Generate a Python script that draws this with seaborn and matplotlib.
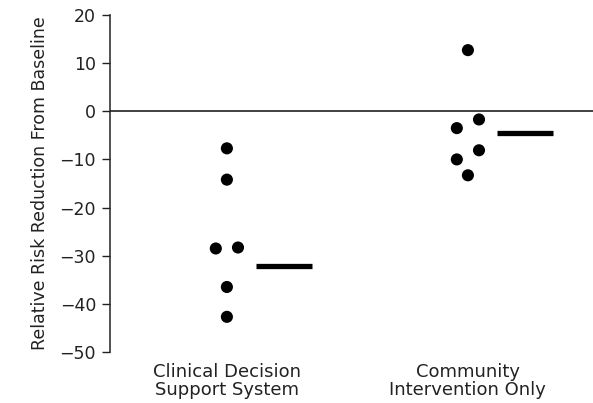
import matplotlib
matplotlib.use("Agg")
import matplotlib.pyplot as plt
import numpy as np
import pandas as pd
import seaborn as sns

# Study-level relative risk reductions (%) by intervention type
groups = ["Clinical Decision\nSupport System", "Community\nIntervention Only"]
cdss_values = [-7.7, -14.2, -28.5, -28.3, -36.5, -42.7]
community_values = [12.7, -1.7, -3.5, -8.1, -10.0, -13.3]
# pooled estimate for each group (horizontal bar)
pooled = [-32.2, -4.6]
y_ticks = [20, 10, 0, -10, -20, -30, -40, -50]

# side-by-side lanes for points that would otherwise overlap
cdss_lane = [0, 0, -1, 1, 0, 0]
community_lane = [0, 1, -1, 1, -1, 0]
lane_step = 0.046

sns.set_style("ticks")
plt.rcParams["font.family"] = ["DejaVu Sans"]

rows = []
for gi, (vals, lanes) in enumerate([(cdss_values, cdss_lane),
                                    (community_values, community_lane)]):
    for v, ln in zip(vals, lanes):
        rows.append({"pos": gi + ln * lane_step, "rrr": v})
df = pd.DataFrame(rows)

fig = plt.figure(figsize=(5.93, 4.03), dpi=100)
ax = fig.add_axes([0.1855, 0.1266, 0.8145, 0.8362])

ax.axhline(0, color="#333333", lw=1.3, zorder=1)
sns.scatterplot(data=df, x="pos", y="rrr", ax=ax, color="black", s=76,
                edgecolor="none", zorder=3, legend=False)
for gi, p in enumerate(pooled):
    ax.hlines(p, gi + 0.12, gi + 0.353, color="black", lw=3.8, zorder=3)

ax.set_xlim(-0.485, 1.519)
ax.set_ylim(-50, 20)
ax.set_yticks(y_ticks)
ax.set_yticklabels([f"\u2212{abs(t)}" if t < 0 else str(t) for t in y_ticks])
ax.set_xticks([0, 1])
ax.set_xticklabels(groups)
ax.tick_params(axis="x", length=0, pad=8, labelsize=13)
ax.tick_params(axis="y", length=6, width=1, pad=4, labelsize=12.5, colors="#222222")
for t in ax.get_xticklabels():
    t.set_linespacing(1.0)
    t.set_color("#222222")

ax.set_xlabel("")
ax.set_ylabel("Relative Risk Reduction From Baseline", fontsize=12.5,
              color="#222222", labelpad=8)

for side in ["top", "right", "bottom"]:
    ax.spines[side].set_visible(False)
ax.spines["left"].set_linewidth(1.1)
ax.spines["left"].set_color("#222222")

fig.savefig("out.png", dpi=100)
